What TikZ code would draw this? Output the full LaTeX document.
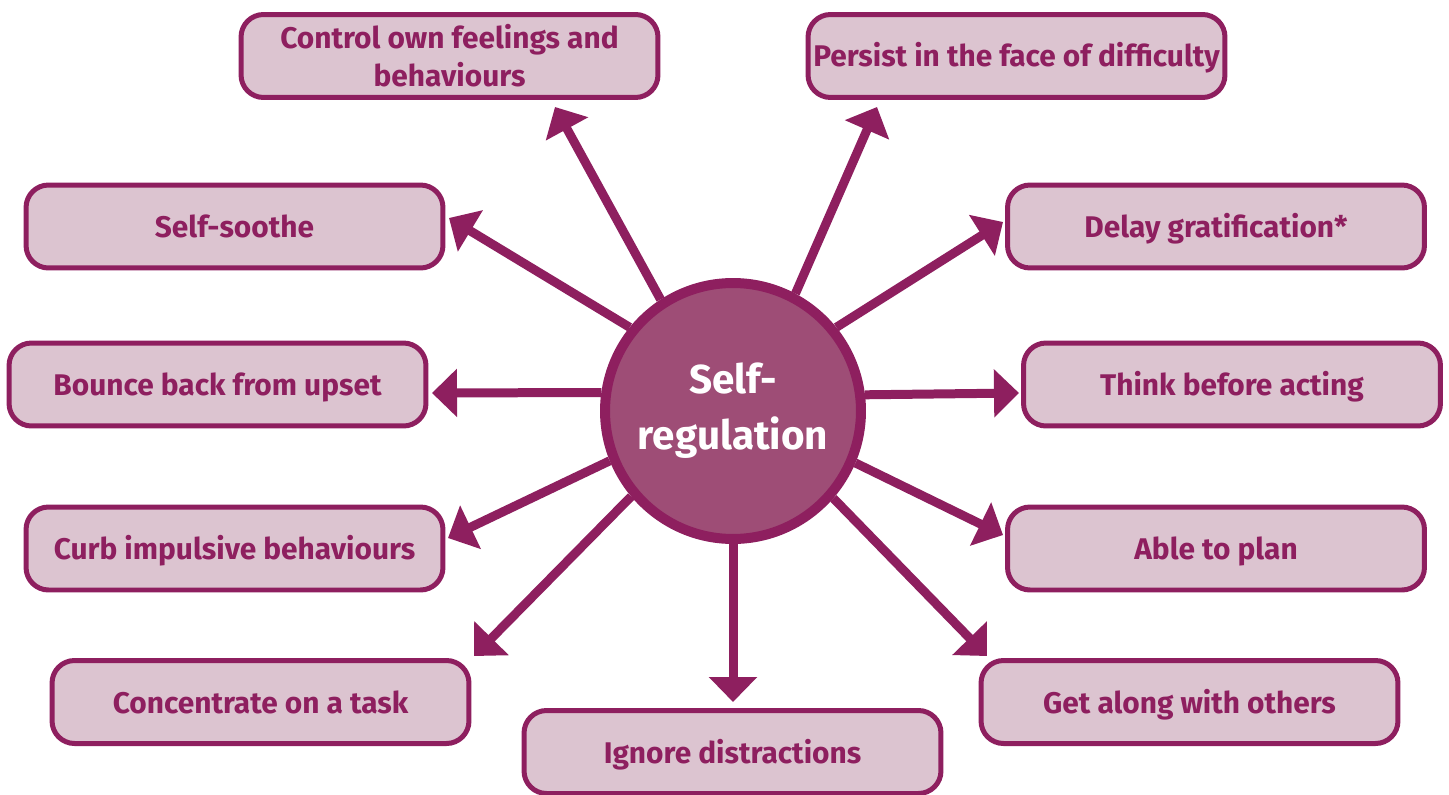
\documentclass[tikz,border=0pt]{standalone}
\usepackage{fontspec}
\setmainfont{Fira Sans}
\usetikzlibrary{arrows.meta}

\definecolor{plum}{HTML}{8E1F5F}
\definecolor{plumlight}{HTML}{DCC4D0}
\definecolor{plummid}{HTML}{9E4D76}

\begin{document}
\begin{tikzpicture}[
    x=0.02cm, y=-0.02cm, % one unit is one pixel of the layout grid
    hub/.style={circle, draw=plum, fill=plummid, line width=0.2cm,
        minimum size=5.12cm, text=white, align=center,
        font=\bfseries\fontsize{23}{32}\selectfont},
    trait/.style={rectangle, rounded corners=0.45cm, draw=plum, fill=plumlight,
        line width=0.1cm, minimum width=8.34cm, minimum height=1.66cm,
        text=plum, align=center, inner sep=0pt,
        text height=0.44cm, text depth=0pt, % centre on the capitals
        font=\bfseries\fontsize{17}{21.6}\selectfont},
    link/.style={draw=plum, line width=0.18cm,
        -{Triangle[length=0.5cm, width=0.94cm]}}
]
\useasboundingbox (0,0) rectangle (1449,794);

% Centre
\node (reg) [hub] at (733,411) {Self-\\regulation};

% Left column
\node (ctrl) [trait, text height={}, text depth={}] at (449.5,56)
    {Control own feelings and\\behaviours};
\node (soothe) [trait] at (234.5,226.5) {Self-soothe};
\node (bounce) [trait] at (217.5,384.5) {Bounce back from upset};
\node (curb) [trait] at (234.5,548.5) {Curb impulsive behaviours};
\node (conc) [trait] at (260.5,702) {Concentrate on a task};

% Right column
\node (persist) [trait] at (1016.5,56) {Persist in the face of difficulty};
\node (delay) [trait] at (1216,226.5) {Delay gratification*};
\node (think) [trait] at (1232,384.5) {Think before acting};
\node (plan) [trait] at (1216,548.5) {Able to plan};
\node (along) [trait] at (1189.5,702) {Get along with others};

% Bottom
\node (ignore) [trait] at (732.5,752) {Ignore distractions};

% Arrow tips
\coordinate (ctrl tip) at (555,107);
\coordinate (persist tip) at (877,107);
\coordinate (soothe tip) at (449,218);
\coordinate (delay tip) at (1003,222);
\coordinate (bounce tip) at (432,393);
\coordinate (think tip) at (1019,393);
\coordinate (curb tip) at (448,538);
\coordinate (plan tip) at (1003,535);
\coordinate (conc tip) at (474,656);
\coordinate (along tip) at (987,656);
\coordinate (ignore tip) at (733,702);

% Arrows
\draw[link] (reg.123.3) -- (ctrl tip);
\draw[link] (reg.62.3) -- (persist tip);
\draw[link] (reg.141.3) -- (soothe tip);
\draw[link] (reg.39.5) -- (delay tip);
\draw[link] (reg.172.2) -- (bounce tip);
\draw[link] (reg.7.8) -- (think tip);
\draw[link] (reg.202.5) -- (curb tip);
\draw[link] (reg.337.6) -- (plan tip);
\draw[link] (reg.220.7) -- (conc tip);
\draw[link] (reg.319.3) -- (along tip);
\draw[link] (reg.270) -- (ignore tip);

\end{tikzpicture}
\end{document}
